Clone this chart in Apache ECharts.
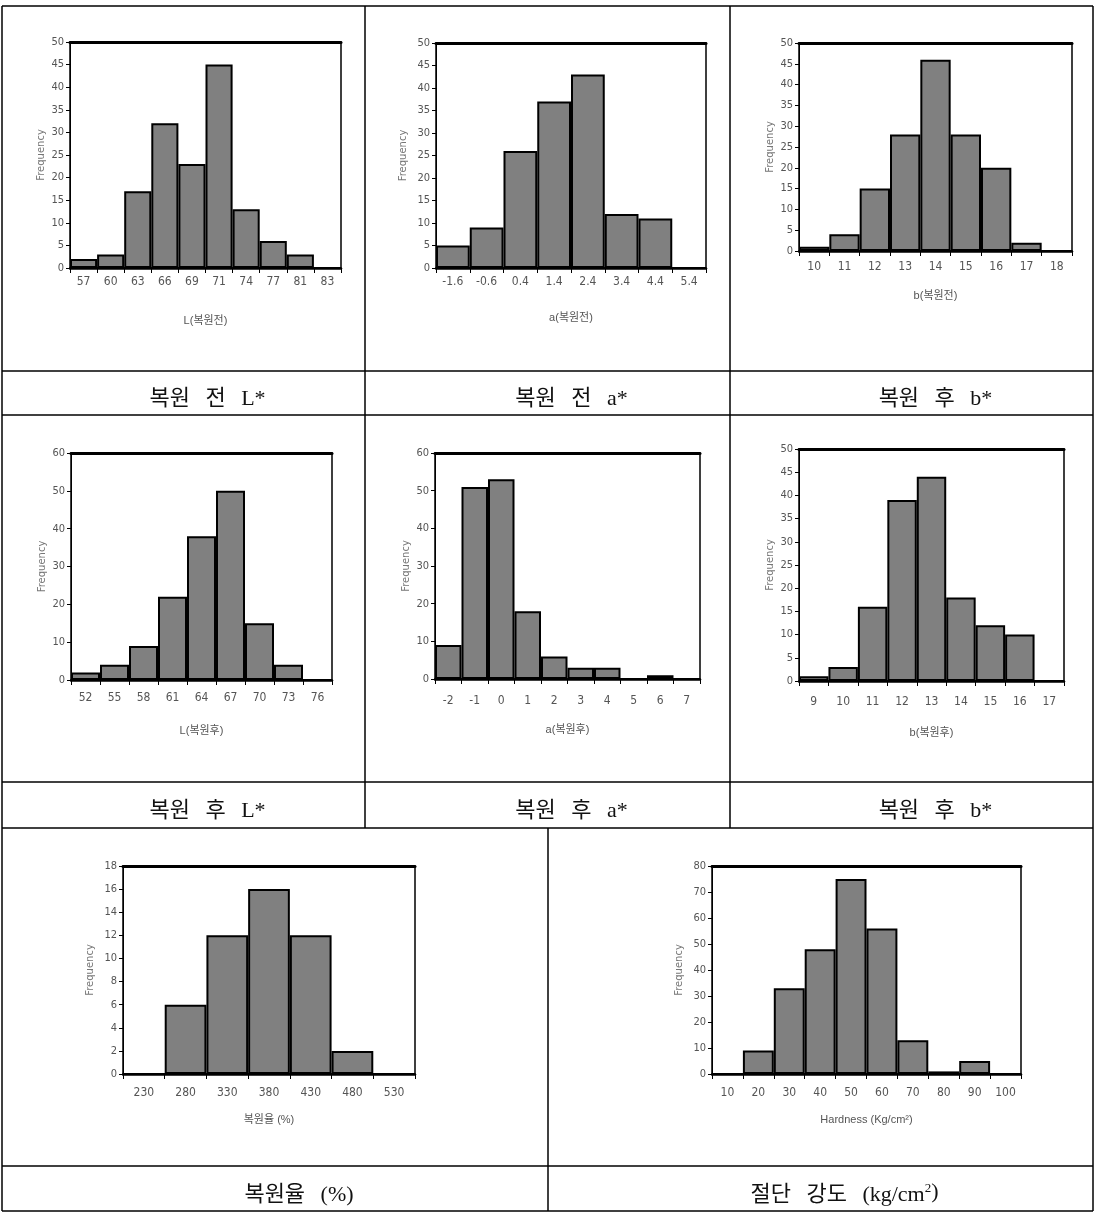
<!DOCTYPE html>
<html><head><meta charset="utf-8">
<script src="https://cdn.jsdelivr.net/npm/echarts@6/dist/echarts.min.js"></script>
<style>
html,body{margin:0;padding:0;background:#fff;}
#chart{position:absolute;left:0;top:0;width:1099px;height:1215px;}
.cap{position:absolute;display:flex;align-items:center;justify-content:center;font-family:'Liberation Serif','Noto Sans CJK KR',serif;font-size:22px;color:#111;word-spacing:10px;white-space:nowrap;padding-left:48px;box-sizing:border-box;}
.cap sup{font-size:13px;line-height:0;position:relative;top:-3px;}
</style></head><body>
<div id="chart"></div>
<div class="cap" style="left:2px;top:373px;width:363px;height:44px">복원 전 L*</div>
<div class="cap" style="left:365px;top:373px;width:365px;height:44px">복원 전 a*</div>
<div class="cap" style="left:730px;top:373px;width:363px;height:44px">복원 후 b*</div>
<div class="cap" style="left:2px;top:784px;width:363px;height:46px">복원 후 L*</div>
<div class="cap" style="left:365px;top:784px;width:365px;height:46px">복원 후 a*</div>
<div class="cap" style="left:730px;top:784px;width:363px;height:46px">복원 후 b*</div>
<div class="cap" style="left:2px;top:1168px;width:546px;height:45px">복원율 (%)</div>
<div class="cap" style="left:548px;top:1168px;width:545px;height:45px">절단 강도 (kg/cm<sup>2</sup>)</div>
<script>
// ---- data ----
const L_before_bins = ['57','60','63','66','69','71','74','77','81','83'];
const L_before_freq = [2,3,17,32,23,45,13,6,3,0];
const a_before_bins = ['-1.6','-0.6','0.4','1.4','2.4','3.4','4.4','5.4'];
const a_before_freq = [5,9,26,37,43,12,11,0];
const b_before_bins = ['10','11','12','13','14','15','16','17','18'];
const b_before_freq = [1,4,15,28,46,28,20,2,0];
const L_after_bins = ['52','55','58','61','64','67','70','73','76'];
const L_after_freq = [2,4,9,22,38,50,15,4,0];
const a_after_bins = ['-2','-1','0','1','2','3','4','5','6','7'];
const a_after_freq = [9,51,53,18,6,3,3,0,1,0];
const b_after_bins = ['9','10','11','12','13','14','15','16','17'];
const b_after_freq = [1,3,16,39,44,18,12,10,0];
const recovery_bins = ['230','280','330','380','430','480','530'];
const recovery_freq = [0,6,12,16,12,2,0];
const hardness_bins = ['10','20','30','40','50','60','70','80','90','100'];
const hardness_freq = [0,9,33,48,75,56,13,1,5,0];

const axisNames = ['L(복원전)','a(복원전)','b(복원전)','L(복원후)','a(복원후)','b(복원후)','복원율 (%)','Hardness (Kg/cm²)'];
const yMax = [50,50,50,60,60,50,18,80];
const yStep = [5,5,5,10,10,5,2,10];

const binsList = [L_before_bins,a_before_bins,b_before_bins,L_after_bins,a_after_bins,b_after_bins,recovery_bins,hardness_bins];
const freqList = [L_before_freq,a_before_freq,b_before_freq,L_after_freq,a_after_freq,b_after_freq,recovery_freq,hardness_freq];

// ---- layout: [left, top, right, bottom, xLabelMargin, xNameGap, yNameGap] ----
const layout = [
  [70, 42, 341, 268, 8, 47, 24],
  [436, 43, 706, 268, 8, 44, 28],
  [799, 43, 1072, 251, 10, 39, 24],
  [71, 453, 332, 680, 12, 45, 24],
  [435, 453, 700, 679, 16, 45, 24],
  [799, 449, 1064, 681, 15, 46, 24],
  [123, 866, 415, 1074, 13, 40, 28],
  [712, 866, 1021, 1074, 13, 40, 28]
];

const grids = [], xAxes = [], yAxes = [], series = [];
layout.forEach((g, i) => {
  grids.push({left: g[0], top: g[1], width: g[2]-g[0], height: g[3]-g[1],
    show: true, borderColor: '#000', borderWidth: 1.5, backgroundColor: '#fff'});
  xAxes.push({type: 'category', gridIndex: i, data: binsList[i], position: 'bottom',
    boundaryGap: true,
    axisLine: {show: true, onZero: false, lineStyle: {color: '#000', width: 2.5}},
    axisTick: {show: true, length: 5, lineStyle: {color: '#000', width: 1}},
    axisLabel: {show: true, margin: g[4], color: '#555', fontSize: 12,
      fontFamily: "'Liberation Sans Narrow','DejaVu Sans Condensed','Liberation Sans',sans-serif"},
    name: axisNames[i], nameLocation: 'middle', nameGap: g[5],
    nameTextStyle: {color: '#555', fontSize: 11, fontFamily: "'Liberation Sans Narrow','Liberation Sans','Noto Sans CJK KR',sans-serif"}
  });
  xAxes.push({type: 'category', gridIndex: i, data: binsList[i], position: 'top',
    axisLine: {show: true, onZero: false, lineStyle: {color: '#000', width: 3}},
    axisTick: {show: false}, axisLabel: {show: false}});
  yAxes.push({type: 'value', gridIndex: i, min: 0, max: yMax[i], interval: yStep[i],
    axisLine: {show: true, lineStyle: {color: '#000', width: 1}},
    axisTick: {show: true, length: 4, lineStyle: {color: '#000', width: 1}},
    splitLine: {show: false},
    axisLabel: {margin: 6, color: '#555', fontSize: 11,
      fontFamily: "'Liberation Sans Narrow','DejaVu Sans Condensed','Liberation Sans',sans-serif"},
    name: 'Frequency', nameLocation: 'middle', nameGap: g[6], nameRotate: 90,
    nameTextStyle: {color: '#777', fontSize: 10, fontFamily: "'DejaVu Sans',sans-serif"}
  });
  series.push({type: 'bar', xAxisIndex: i*2, yAxisIndex: i, data: freqList[i],
    barCategoryGap: '0%', barGap: '0%', silent: true,
    itemStyle: {color: '#808080', borderColor: '#000', borderWidth: 2}});
});

// table lines
const H = [6, 371, 415, 782, 828, 1166, 1211];
const lines = [];
H.forEach(y => lines.push({type: 'line', shape: {x1: 2, y1: y, x2: 1093, y2: y}}));
[[2,6,1211],[1093,6,1211],[365,6,828],[730,6,828],[548,828,1211]].forEach(v =>
  lines.push({type: 'line', shape: {x1: v[0], y1: v[1], x2: v[0], y2: v[2]}}));
lines.forEach(l => { l.style = {stroke: '#000', lineWidth: 1.5}; l.silent = true; l.z = 100; });

const chart = echarts.init(document.getElementById('chart'), null, {renderer: 'canvas'});
chart.setOption({
  animation: false,
  backgroundColor: '#fff',
  grid: grids, xAxis: xAxes, yAxis: yAxes, series: series,
  graphic: lines
});
</script>
</body></html>
